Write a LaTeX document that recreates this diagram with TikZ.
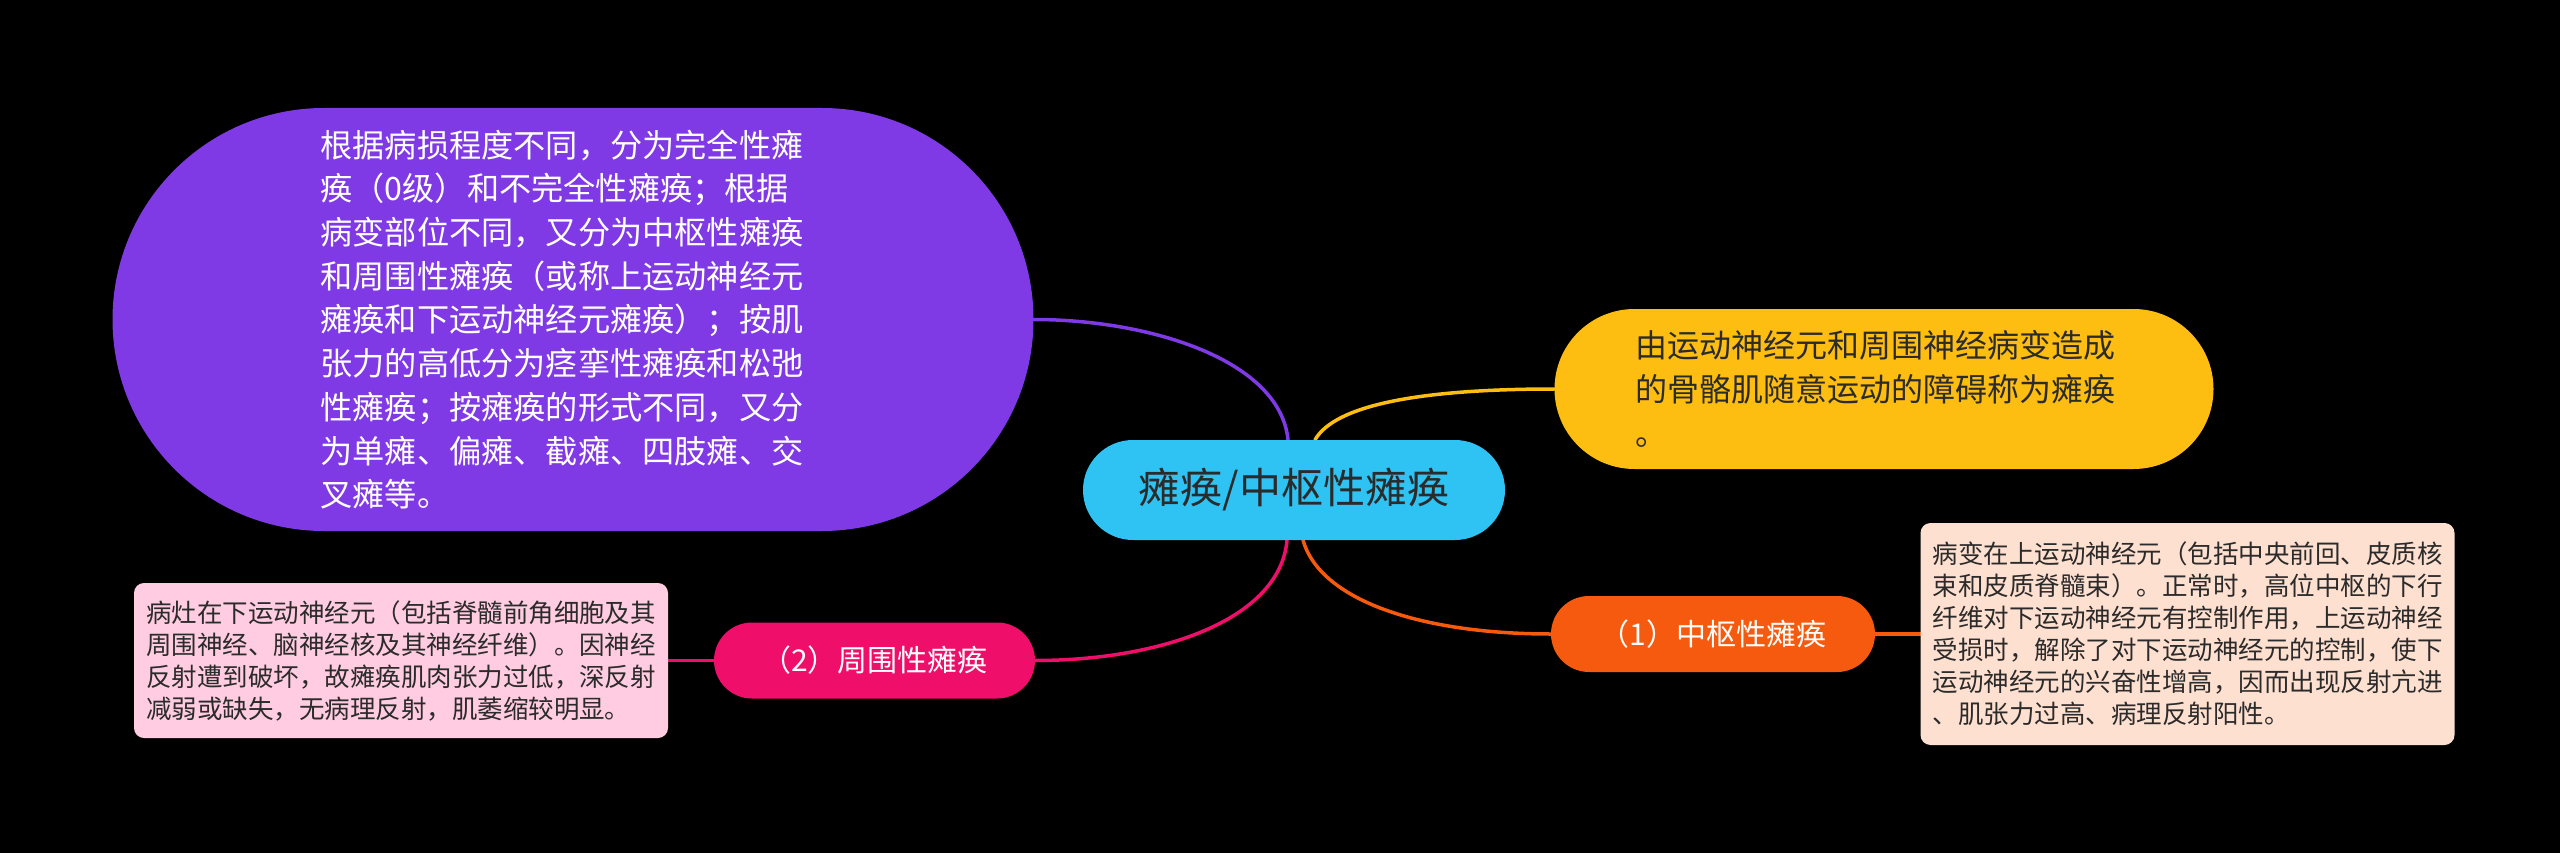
\documentclass[tikz,border=0pt]{standalone}
\usepackage{fontspec}
\setmainfont{Noto Sans CJK SC}
\usetikzlibrary{shapes.misc,backgrounds}
\definecolor{bgblack}{HTML}{000000}
\definecolor{rootcyan}{HTML}{2EC3F3}
\definecolor{kindpurple}{HTML}{7F3AE6}
\definecolor{defyellow}{HTML}{FEBD11}
\definecolor{cenorange}{HTML}{F65A0E}
\definecolor{perpink}{HTML}{EF0F6A}
\definecolor{cennote}{HTML}{FEE0D0}
\definecolor{pernote}{HTML}{FFCCE1}
\definecolor{darktext}{HTML}{2B2B2B}
\newcommand{\mmfont}[2]{\fontsize{#1}{#2}\selectfont}
\tikzset{
  mindmap/.style={x=1pt, y=-1pt},
  % the central topic
  topic/.style={rounded rectangle, fill=rootcyan, text=darktext,
                font=\mmfont{42}{50}, minimum width=422pt,
                minimum height=100pt, inner xsep=0pt},
  % a large stadium-shaped note hanging straight off the topic
  bignote/.style={rounded rectangle, align=left, inner xsep=4pt,
                  inner ysep=0pt},
  % a numbered sub-topic
  subtopic/.style={rounded rectangle, text=white, font=\mmfont{30}{36},
                   minimum height=76pt, inner xsep=0pt},
  % the explanatory box beside a sub-topic
  leafbox/.style={rectangle, rounded corners=10pt, align=left,
                  text=darktext, font=\mmfont{25.5}{32},
                  inner xsep=12pt, inner ysep=0pt},
  % a connector
  branch/.style={line width=3.5pt, line cap=round},
}
\newcommand{\curvebranch}[5]{%
  \draw[branch, draw=#5] (#1) .. controls #3 and #4 .. (#2);%
}
% trailing room on a first line, to push a note's text a little to the left
\newcommand{\padr}[1]{\hspace*{#1}}

\begin{document}
\begin{tikzpicture}[mindmap]
  % ---------------------------------------------------------------------------
  % Paralysis mind map. Nodes first; the black page and every connector go on
  % the background layer so that the lines tuck in under the topic.
  % ---------------------------------------------------------------------------
  \useasboundingbox (0,0) rectangle (2560,853);

  \node[topic] (root) at (1294,490) {瘫痪/中枢性瘫痪};

  \node[bignote, fill=kindpurple, text=white, font=\mmfont{32.2}{43.7},
        minimum width=929pt, minimum height=423pt] (kinds) at (573,319.5)
    {根据病损程度不同，分为完全性瘫\padr{22pt}\\
     痪（0级）和不完全性瘫痪；根据\\
     病变部位不同，又分为中枢性瘫痪\\
     和周围性瘫痪（或称上运动神经元\\
     瘫痪和下运动神经元瘫痪）；按肌\\
     张力的高低分为痉挛性瘫痪和松弛\\
     性瘫痪；按瘫痪的形式不同，又分\\
     为单瘫、偏瘫、截瘫、四肢瘫、交\\
     叉瘫等。};

  \node[bignote, fill=defyellow, text=darktext, font=\mmfont{32}{44},
        minimum width=667pt, minimum height=160pt] (defn) at (1884,389)
    {由运动神经元和周围神经病变造成\padr{18pt}\\
     的骨骼肌随意运动的障碍称为瘫痪\\
     。};

  \node[subtopic, fill=cenorange, minimum width=324pt] (central)
    at (1713,634) {（1）中枢性瘫痪};
  \node[subtopic, fill=perpink, minimum width=321pt] (periph)
    at (874.5,660.5) {（2）周围性瘫痪};

  \node[leafbox, fill=cennote, minimum width=531pt, minimum height=222pt]
    (centralnote) at (2187.5,634)
    {病变在上运动神经元（包括中央前回、皮质核\\
     束和皮质脊髓束）。正常时，高位中枢的下行\\
     纤维对下运动神经元有控制作用，上运动神经\\
     受损时，解除了对下运动神经元的控制，使下\\
     运动神经元的兴奋性增高，因而出现反射亢进\\
     、肌张力过高、病理反射阳性。};
  \node[leafbox, fill=pernote, minimum width=530pt, minimum height=155pt]
    (periphnote) at (401,660.5)
    {病灶在下运动神经元（包括脊髓前角细胞及其\\
     周围神经、脑神经核及其神经纤维）。因神经\\
     反射遭到破坏，故瘫痪肌肉张力过低，深反射\\
     减弱或缺失，无病理反射，肌萎缩较明显。};

  \begin{pgfonlayer}{background}
    \fill[bgblack] (0,0) rectangle (2560,853);
    \curvebranch{[xshift=-6pt]root.north}{kinds.east}{(1280,360)}{(1150,319.5)}{kindpurple}
    \curvebranch{[xshift=21pt]root.north}{defn.west}{(1335,405)}{(1420,389)}{defyellow}
    \curvebranch{[xshift=-7pt]root.south}{periph.east}{(1280,620)}{(1160,660.5)}{perpink}
    \curvebranch{[xshift=9pt]root.south}{central.west}{(1320,600)}{(1420,634)}{cenorange}
    \draw[branch, draw=perpink] (periph.west) -- (periphnote.east);
    \draw[branch, draw=cenorange] (central.east) -- (centralnote.west);
  \end{pgfonlayer}
\end{tikzpicture}
\end{document}
